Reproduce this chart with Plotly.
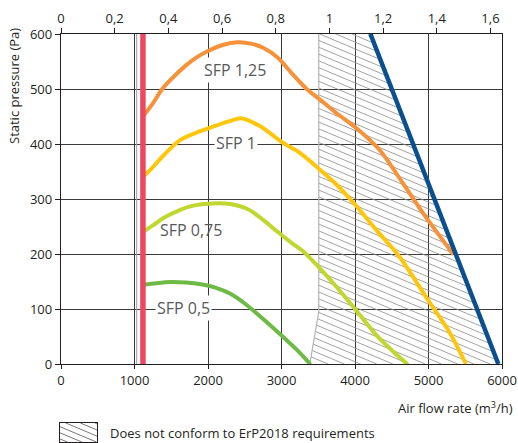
import numpy as np
import plotly.graph_objects as go

# ---------------- data ----------------
sfp_labels = ["SFP 1,25", "SFP 1", "SFP 0,75", "SFP 0,5"]

sfp125_x = [1115, 1250, 1377, 1500, 1700, 1850, 2000, 2200, 2400, 2600, 2750, 2950, 3150, 3350, 3550, 3750, 4000, 4330, 4650, 4960, 5340]
sfp125_y = [450, 474, 500, 518, 543, 558, 569, 580, 585, 582, 575, 557, 527, 499, 478, 456, 431, 390, 329, 268, 199]

sfp1_x = [1115, 1250, 1400, 1620, 1850, 2100, 2300, 2450, 2700, 3000, 3250, 3500, 3750, 4000, 4300, 4600, 5000, 5280, 5510]
sfp1_y = [340, 358, 380, 407, 421, 433, 442, 447, 433, 404, 384, 356, 326, 290, 242, 196, 115, 59, 0]

sfp075_x = [1115, 1250, 1400, 1600, 1800, 2050, 2300, 2550, 2750, 2950, 3150, 3300, 3500, 3750, 4000, 4300, 4500, 4710]
sfp075_y = [240, 252, 266, 279, 288, 292, 291, 281, 262, 240, 219, 204, 177, 140, 100, 51, 25, 0]

sfp05_x = [1115, 1300, 1500, 1700, 1900, 2100, 2300, 2500, 2750, 3000, 3200, 3390]
sfp05_y = [144, 147, 149, 148, 145, 139, 128, 110, 82, 52, 27, 0]

min_flow_x = 1115          # red vertical limit
aux_line_x = 1030          # thin grey vertical line
line_y = [0, 600]

max_curve_x = [4210, 5950]  # blue boundary
max_curve_y = [600, 0]

zone_x = [3507, 4210, 5950, 3385, 3507]   # non-conforming area
zone_y = [600, 600, 0, 0, 95]
zone_edge_x = [3507, 3507, 3385]
zone_edge_y = [600, 95, 0]

x_ticks = [0, 1000, 2000, 3000, 4000, 5000, 6000]
y_ticks = [0, 100, 200, 300, 400, 500, 600]
top_ticks = [0, 0.2, 0.4, 0.6, 0.8, 1.0, 1.2, 1.4, 1.6]
top_ticktext = ["0", "0,2", "0,4", "0,6", "0,8", "1", "1,2", "1,4", "1,6"]

label_x = [2363, 2385, 1769, 1664]
label_y = [535, 401, 244, 101]

legend_text = "Does not conform to ErP2018 requirements"
x_title = "Air flow rate (m<sup>3</sup>/h)"
y_title = "Static pressure (Pa)"

# ---------------- layout constants ----------------
W, H = 518, 443
X_RANGE = [0, 6000]
Y_RANGE = [0, 600]
TOP_RANGE = [0, 1.643]
plot_l, plot_r, plot_t, plot_b = 61, 502, 34, 364
xdom = [plot_l / W, plot_r / W]
ydom = [(H - plot_b) / H, (H - plot_t) / H]
sx = (plot_r - plot_l) / (X_RANGE[1] - X_RANGE[0])
sy = (plot_b - plot_t) / (Y_RANGE[1] - Y_RANGE[0])

box_l, box_r, box_t, box_b = 60, 97, 423, 442
box_w, box_h = box_r - box_l, box_b - box_t

HATCH_K = 0.42
HATCH_STEP = 6.8

FONT = "Open Sans"
INK = "#231f20"
GRID = "#3a3a3a"


def hatch(poly_u, poly_v, k, step):
    pts = list(zip(poly_u, poly_v))
    n = len(pts)
    g = [v + k * u for u, v in pts]
    c = np.floor(min(g) / step) * step + step / 2
    us, vs = [], []
    while c < max(g):
        xs = []
        for i in range(n):
            (u1, v1), (u2, v2) = pts[i], pts[(i + 1) % n]
            f1 = v1 + k * u1 - c
            f2 = v2 + k * u2 - c
            if (f1 < 0) != (f2 < 0):
                t = f1 / (f1 - f2)
                xs.append(u1 + t * (u2 - u1))
        xs.sort()
        for a, b in zip(xs[0::2], xs[1::2]):
            us += [a, b, None]
            vs += [c - k * a, c - k * b, None]
        c += step
    return us, vs


fig = go.Figure()

# hatch in the main plot (computed in pixel space, mapped back to data)
hu, hv = hatch([x * sx for x in zone_x], [y * sy for y in zone_y], HATCH_K, HATCH_STEP)
hx = [None if u is None else u / sx for u in hu]
hy = [None if v is None else v / sy for v in hv]
fig.add_trace(go.Scatter(x=hx, y=hy, mode="lines", line=dict(color="#8c8c8c", width=0.8),
                         hoverinfo="skip", showlegend=False))
fig.add_trace(go.Scatter(x=zone_edge_x, y=zone_edge_y, mode="lines",
                         line=dict(color="#b3b3b3", width=1.2), hoverinfo="skip", showlegend=False))

fig.add_trace(go.Scatter(x=[aux_line_x, aux_line_x], y=line_y, mode="lines",
                         line=dict(color="#9a9a9a", width=1), hoverinfo="skip", showlegend=False))

curves = [
    (sfp05_x, sfp05_y, "#6dbb45"),
    (sfp075_x, sfp075_y, "#c0d730"),
    (sfp1_x, sfp1_y, "#ffc60b"),
    (sfp125_x, sfp125_y, "#f6923a"),
]
for xs, ys, col in curves:
    fig.add_trace(go.Scatter(x=xs, y=ys, mode="lines",
                             line=dict(color=col, width=4, shape="spline", smoothing=0.8),
                             showlegend=False))

fig.add_trace(go.Scatter(x=max_curve_x, y=max_curve_y, mode="lines",
                         line=dict(color="#0a4f8e", width=4.5), showlegend=False))
fig.add_trace(go.Scatter(x=[min_flow_x, min_flow_x], y=line_y, mode="lines",
                         line=dict(color="#ee4762", width=5.5), showlegend=False))

# dummy trace to activate top axis
fig.add_trace(go.Scatter(x=[TOP_RANGE[0]], y=[0], xaxis="x2", yaxis="y", mode="markers",
                         marker=dict(opacity=0), hoverinfo="skip", showlegend=False))

# legend swatch hatch
lu, lv = hatch([0, box_w, box_w, 0], [0, 0, box_h, box_h], HATCH_K, HATCH_STEP * 0.9)
fig.add_trace(go.Scatter(x=lu, y=lv, xaxis="x3", yaxis="y3", mode="lines",
                         line=dict(color="#555555", width=0.8), hoverinfo="skip", showlegend=False))

axis_font = dict(family=FONT, size=13, color=INK)

fig.update_layout(
    width=W, height=H,
    margin=dict(l=0, r=0, t=0, b=0, autoexpand=False),
    paper_bgcolor="white", plot_bgcolor="white",
    showlegend=False,
    font=dict(family=FONT, size=13, color=INK),
    xaxis=dict(domain=xdom, range=X_RANGE, tickvals=x_ticks, ticks="outside", ticklen=4,
               tickcolor=INK, showline=True, linecolor=INK, linewidth=1.2,
               showgrid=True, gridcolor=GRID, gridwidth=1, zeroline=False,
               tickfont=axis_font, anchor="y"),
    xaxis2=dict(range=TOP_RANGE, overlaying="x", side="top", anchor="y",
                tickvals=top_ticks, ticktext=top_ticktext, ticks="outside", ticklen=5,
                tickcolor=INK, showline=True, linecolor=INK, linewidth=1.2,
                showgrid=False, zeroline=False, tickfont=axis_font),
    yaxis=dict(domain=ydom, range=Y_RANGE, tickvals=y_ticks, ticks="outside", ticklen=5,
               tickcolor=INK, showline=True, mirror=True, linecolor=INK, linewidth=1.2,
               showgrid=True, gridcolor=GRID, gridwidth=1, zeroline=False,
               tickfont=axis_font, anchor="x"),
    xaxis3=dict(domain=[box_l / W, box_r / W], range=[0, box_w], anchor="y3",
                showline=True, mirror=True, linecolor=INK, linewidth=1,
                showgrid=False, zeroline=False, showticklabels=False, ticks=""),
    yaxis3=dict(domain=[(H - box_b) / H, (H - box_t) / H], range=[0, box_h], anchor="x3",
                showline=True, mirror=True, linecolor=INK, linewidth=1,
                showgrid=False, zeroline=False, showticklabels=False, ticks=""),
)

annotations = []
for txt, lx, ly in zip(sfp_labels, label_x, label_y):
    annotations.append(dict(x=lx, y=ly, xref="x", yref="y", text=txt, showarrow=False,
                            font=dict(family=FONT, size=16, color="#58595b"),
                            bgcolor=None if txt == "SFP 0,75" else "white", borderpad=1))
annotations.append(dict(x=108 / W, y=(H - 433) / H, xref="paper", yref="paper",
                        text=legend_text, showarrow=False, xanchor="left", yanchor="middle",
                        font=dict(family=FONT, size=13, color=INK)))
annotations.append(dict(x=515 / W, y=(H - 407) / H, xref="paper", yref="paper",
                        text=x_title, showarrow=False, xanchor="right", yanchor="middle",
                        font=dict(family=FONT, size=13, color=INK)))
annotations.append(dict(x=14 / W, y=(H - 86) / H, xref="paper", yref="paper",
                        text=y_title, showarrow=False, textangle=-90,
                        xanchor="center", yanchor="middle",
                        font=dict(family=FONT, size=13, color=INK)))
fig.update_layout(annotations=annotations)

fig.write_html("out.html",
               config={"displayModeBar": False, "staticPlot": True},
               post_script="document.body.style.margin='0';document.body.style.padding='0';"
                           "document.body.style.overflow='hidden';")
